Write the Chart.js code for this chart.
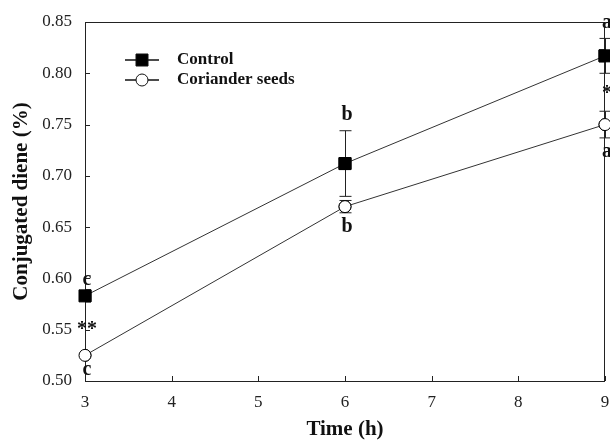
<!DOCTYPE html>
<html>
<head>
<meta charset="utf-8">
<script src="https://cdn.jsdelivr.net/npm/chart.js@4/dist/chart.umd.min.js"></script>
<style>
  html, body { margin: 0; padding: 0; background: #fff; }
  #wrap { width: 610px; height: 446px; }
</style>
</head>
<body>
<div id="wrap"><canvas id="cdChart" width="610" height="446"></canvas></div>
<script>
// data
var hours = [3, 6, 9];
var controlVals = [0.583, 0.712, 0.817];
var controlErr = [0, 0.032, 0.017];
var corianderVals = [0.525, 0.670, 0.750];
var corianderErr = [0, 0.006, 0.013];
var controlLetters = ['c', 'b', 'a'];
var corianderLetters = ['c', 'b', 'a'];
var starMarks = ['**', '', '*'];
var xTicks = [3, 4, 5, 6, 7, 8, 9];
var yTicks = [0.50, 0.55, 0.60, 0.65, 0.70, 0.75, 0.80, 0.85];

var serif = '"Liberation Serif", "Times New Roman", serif';

function toPoints(vals) {
    return hours.map(function (h, i) { return { x: h, y: vals[i] }; });
}

// error bars, inward ticks, frame, letters and legend
var extras = {
    id: 'extras',
    afterDatasetsDraw: function (chart) {
        var ctx = chart.ctx, xs = chart.scales.x, ys = chart.scales.y, a = chart.chartArea;
        ctx.save();
        ctx.strokeStyle = '#222';
        ctx.lineWidth = 1;
        ctx.strokeRect(a.left + 0.5, a.top + 0.5, a.right - a.left - 1, a.bottom - a.top);

        // inward tick marks
        ctx.beginPath();
        xTicks.forEach(function (t) {
            var px = Math.round(xs.getPixelForValue(t)) + 0.5;
            ctx.moveTo(px, a.bottom); ctx.lineTo(px, a.bottom - 5);
        });
        yTicks.forEach(function (t) {
            var py = Math.round(ys.getPixelForValue(t)) + 0.5;
            ctx.moveTo(a.left, py); ctx.lineTo(a.left + 5, py);
        });
        ctx.stroke();

        // error bars
        var sets = [[controlVals, controlErr], [corianderVals, corianderErr]];
        sets.forEach(function (s) {
            hours.forEach(function (h, i) {
                if (!s[1][i]) return;
                var px = Math.round(xs.getPixelForValue(h)) + 0.5;
                var hi = ys.getPixelForValue(s[0][i] + s[1][i]);
                var lo = ys.getPixelForValue(s[0][i] - s[1][i]);
                ctx.beginPath();
                ctx.moveTo(px, hi); ctx.lineTo(px, lo);
                ctx.moveTo(px - 6, hi); ctx.lineTo(px + 6, hi);
                ctx.moveTo(px - 6, lo); ctx.lineTo(px + 6, lo);
                ctx.stroke();
            });
        });
        ctx.restore();

        // redraw points on top of error bars
        chart.getSortedVisibleDatasetMetas().forEach(function (m) {
            m.data.forEach(function (el) { el.draw(ctx, a); });
        });

        // significance letters
        ctx.save();
        ctx.font = 'bold 20px ' + serif;
        ctx.fillStyle = '#111';
        ctx.textAlign = 'center';
        ctx.textBaseline = 'middle';
        hours.forEach(function (h, i) {
            var px = xs.getPixelForValue(h) + 2;
            var top = ys.getPixelForValue(controlVals[i] + controlErr[i]);
            ctx.fillText(controlLetters[i], px, top - 16);
            var bot = ys.getPixelForValue(corianderVals[i] - corianderErr[i]);
            ctx.fillText(corianderLetters[i], px, bot + 14);
            if (starMarks[i]) {
                var mid = (ys.getPixelForValue(controlVals[i]) + ys.getPixelForValue(corianderVals[i])) / 2;
                ctx.fillText(starMarks[i], px, mid + 4);
            }
        });

        // legend
        var lx = 125, rows = [60, 80];
        ctx.font = 'bold 17px ' + serif;
        ctx.textAlign = 'left';
        chart.data.datasets.forEach(function (ds, i) {
            var y = rows[i];
            ctx.strokeStyle = '#111';
            ctx.lineWidth = 1.5;
            ctx.beginPath();
            ctx.moveTo(lx, y); ctx.lineTo(lx + 34, y);
            ctx.stroke();
            ctx.lineWidth = 1;
            ctx.fillStyle = ds.pointBackgroundColor;
            ctx.beginPath();
            if (ds.pointStyle === 'rect') {
                ctx.rect(lx + 11, y - 6, 12, 12);
            } else {
                ctx.arc(lx + 17, y, 6, 0, Math.PI * 2);
            }
            ctx.fill();
            ctx.stroke();
            ctx.fillStyle = '#111';
            ctx.fillText(ds.label, lx + 52, y);
        });
        ctx.restore();
    }
};

new Chart(document.getElementById('cdChart'), {
    type: 'line',
    data: {
        datasets: [{
            label: 'Control',
            data: toPoints(controlVals),
            borderColor: '#333',
            borderWidth: 1,
            pointStyle: 'rect',
            pointRadius: 8.5,
            pointBackgroundColor: '#000',
            pointBorderColor: '#000',
            pointBorderWidth: 1
        }, {
            label: 'Coriander seeds',
            data: toPoints(corianderVals),
            borderColor: '#333',
            borderWidth: 1,
            pointStyle: 'circle',
            pointRadius: 6,
            pointBackgroundColor: '#fff',
            pointBorderColor: '#000',
            pointBorderWidth: 1
        }]
    },
    options: {
        responsive: false,
        animation: false,
        layout: { autoPadding: false, padding: { top: 22, right: 5, left: 0, bottom: 0 } },
        plugins: { legend: { display: false }, tooltip: { enabled: false } },
        scales: {
            x: {
                type: 'linear',
                min: 3, max: 9,
                afterBuildTicks: function (s) { s.ticks = xTicks.map(function (v) { return { value: v }; }); },
                afterFit: function (s) { s.height = 65; s.paddingLeft = 0; s.paddingRight = 0; },
                grid: { display: false },
                border: { display: false },
                ticks: { color: '#222', padding: 3, maxRotation: 0, font: { family: serif, size: 17 } },
                title: {
                    display: true, text: 'Time (h)', color: '#111', padding: { top: 16 },
                    font: { family: serif, size: 21, weight: 'bold' }
                }
            },
            y: {
                min: 0.5, max: 0.85,
                afterBuildTicks: function (s) { s.ticks = yTicks.map(function (v) { return { value: v }; }); },
                afterFit: function (s) { s.width = 85; s.paddingTop = 0; s.paddingBottom = 0; },
                grid: { display: false },
                border: { display: false },
                ticks: {
                    color: '#222', padding: 5, font: { family: serif, size: 17 },
                    callback: function (v) { return Number(v).toFixed(2); }
                },
                title: {
                    display: true, text: 'Conjugated diene (%)', color: '#111', padding: { top: 9, bottom: 0 },
                    font: { family: serif, size: 21, weight: 'bold' }
                }
            }
        }
    },
    plugins: [extras]
});
</script>
</body>
</html>
